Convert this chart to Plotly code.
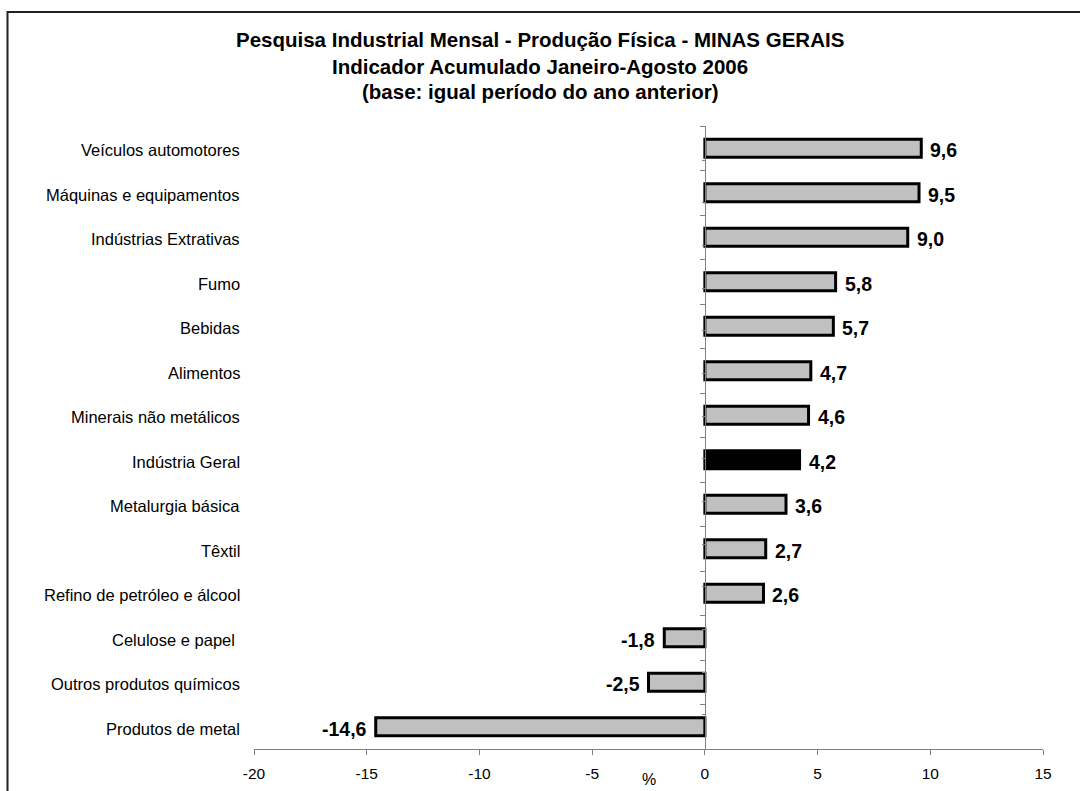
import plotly.graph_objects as go

# Data
categories = [
    "Veículos automotores",
    "Máquinas e equipamentos",
    "Indústrias Extrativas",
    "Fumo",
    "Bebidas",
    "Alimentos",
    "Minerais não metálicos",
    "Indústria Geral",
    "Metalurgia básica",
    "Têxtil",
    "Refino de petróleo e álcool",
    "Celulose e papel\u00a0",
    "Outros produtos químicos",
    "Produtos de metal",
]
values = [9.6, 9.5, 9.0, 5.8, 5.7, 4.7, 4.6, 4.2, 3.6, 2.7, 2.6, -1.8, -2.5, -14.6]
highlight = "Indústria Geral"
x_ticks = [-20, -15, -10, -5, 0, 5, 10, 15]
x_tick_labels = ["-20", "-15", "-10", "-5", "0", "5", "10", "15"]
title_lines = [
    "Pesquisa Industrial Mensal - Produção Física - MINAS GERAIS",
    "Indicador Acumulado Janeiro-Agosto 2006",
    "(base: igual período do ano anterior)",
]
axis_title = "%"

# Layout geometry (pixels)
W, H = 1080, 791
ML, MR, MT, MB = 254, 37, 126, 42
PW, PH = W - ML - MR, H - MT - MB
FONT = "Liberation Sans, Arial, sans-serif"


def px_x(p):
    return (p - ML) / PW


def px_y(p):
    return (H - MB - p) / PH


x_range = [x_ticks[0], x_ticks[-1]]
zero_pos = (0 - x_range[0]) / (x_range[1] - x_range[0])

fills = ["#000000" if c == highlight else "#C0C0C0" for c in categories]

fig = go.Figure()
fig.add_trace(go.Bar(
    x=values,
    y=categories,
    orientation="h",
    width=0.4,
    marker=dict(color=fills, line=dict(color="#000000", width=3)),
    hoverinfo="x+y",
))
# invisible companion trace carrying the short centre ticks on the zero axis
fig.add_trace(go.Scatter(
    x=values, y=categories, yaxis="y2", mode="markers",
    marker=dict(opacity=0, size=1), hoverinfo="skip",
))

annotations = []

# category labels at the left edge of the plot
for c in categories:
    annotations.append(dict(
        x=0, xref="paper", y=c, yref="y", text=c, showarrow=False,
        xanchor="right", yanchor="middle", xshift=-12, yshift=-2,
        font=dict(family=FONT, size=16.5, color="#000000"),
    ))

# value labels at the bar ends
for c, v in zip(categories, values):
    label = f"{v:.1f}".replace(".", ",")
    annotations.append(dict(
        x=v, xref="x", y=c, yref="y", text=f"<b>{label}</b>", showarrow=False,
        xanchor="left" if v >= 0 else "right", yanchor="middle",
        xshift=7 if v >= 0 else -7, yshift=-2,
        font=dict(family=FONT, size=19.5, color="#000000"),
    ))

# three-line title
for line, py in zip(title_lines, [40, 66, 92]):
    annotations.append(dict(
        x=px_x(W / 2), xref="paper", y=px_y(py), yref="paper",
        text=f"<b>{line}</b>", showarrow=False,
        xanchor="center", yanchor="middle",
        font=dict(family=FONT, size=20.5, color="#000000"),
    ))

# x-axis title
annotations.append(dict(
    x=0.5, xref="paper", y=px_y(779), yref="paper", text=axis_title,
    showarrow=False, xanchor="center", yanchor="middle",
    font=dict(family=FONT, size=16, color="#000000"),
))

fig.update_layout(
    width=W,
    height=H,
    margin=dict(l=ML, r=MR, t=MT, b=MB, autoexpand=False),
    paper_bgcolor="#FFFFFF",
    plot_bgcolor="#FFFFFF",
    showlegend=False,
    font=dict(family=FONT, color="#000000"),
    xaxis=dict(
        range=x_range,
        tickvals=x_ticks,
        ticktext=x_tick_labels,
        ticks="outside",
        ticklen=5,
        tickcolor="#808080",
        showline=True,
        linecolor="#808080",
        linewidth=1,
        showgrid=False,
        zeroline=False,
        automargin=False,
        ticklabelstandoff=5,
        tickfont=dict(family=FONT, size=15.5, color="#000000"),
        fixedrange=True,
    ),
    yaxis=dict(
        type="category",
        categoryorder="array",
        categoryarray=categories,
        autorange="reversed",
        anchor="free",
        position=zero_pos,
        showline=True,
        linecolor="#808080",
        linewidth=1,
        ticks="outside",
        tickson="boundaries",
        ticklen=5,
        tickcolor="#808080",
        showticklabels=False,
        showgrid=False,
        zeroline=False,
        automargin=False,
        fixedrange=True,
    ),
    yaxis2=dict(
        type="category",
        categoryorder="array",
        categoryarray=categories,
        autorange="reversed",
        overlaying="y",
        anchor="free",
        position=zero_pos,
        side="left",
        showline=False,
        ticks="outside",
        ticklen=3,
        tickcolor="#808080",
        showticklabels=False,
        showgrid=False,
        zeroline=False,
        automargin=False,
        fixedrange=True,
    ),
    annotations=annotations,
    shapes=[dict(
        type="rect", xref="paper", yref="paper",
        x0=px_x(7.5), x1=px_x(W + 10), y0=px_y(H + 10), y1=px_y(12),
        line=dict(color="#222222", width=2), fillcolor="rgba(0,0,0,0)",
        layer="below",
    )],
)

fig.write_html("out.html")
